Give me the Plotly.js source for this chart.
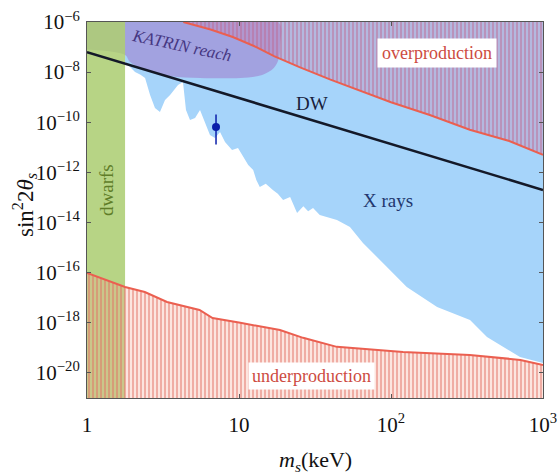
<!DOCTYPE html>
<html>
<head>
<meta charset="utf-8">
<script src="https://cdn.plot.ly/plotly-3.0.1.min.js"></script>
<style>html,body{margin:0;padding:0;background:#fff;}#chart{width:557px;height:475px;}</style>
</head>
<body>
<div id="chart"></div>
<script>
// ---- data (mass in keV, log10 of sin^2 2theta) ----
const xrayMass = [1.78, 2.07, 2.25, 2.41, 2.60, 2.80, 3.02, 3.26, 3.52, 3.97, 4.28, 4.48, 4.76, 5.14, 5.54, 5.97, 6.44, 6.95, 7.50, 8.09, 9.00, 9.85, 10.5, 11.5, 12.4, 13.0, 13.7, 15.0, 16.7, 18.0, 19.5, 21.7, 24.1, 26.5, 28.5, 30.7, 34.0, 37.9, 44.1, 53.7, 65.4, 88.5, 127, 201, 331, 428, 706, 1000];
const xrayLogSin = [-7.6, -7.99, -8.1, -8.23, -8.91, -9.43, -9.59, -9.11, -8.91, -8.51, -8.39, -9.51, -9.91, -9.83, -9.51, -9.99, -10.51, -10.63, -10.39, -10.79, -11.11, -11.03, -11.31, -11.70, -11.90, -12.3, -12.58, -12.45, -12.70, -12.85, -13.10, -12.98, -13.62, -13.35, -13.55, -13.42, -13.70, -13.78, -13.90, -14.18, -14.82, -15.61, -16.57, -17.37, -17.89, -18.57, -19.36, -19.60];

const overMass = [4.3, 6.5, 9.1, 13, 17, 25, 40, 60, 100, 180, 330, 600, 1000];
const overLogSin = [-6.0, -6.3, -6.6, -7.0, -7.36, -7.8, -8.3, -8.71, -9.2, -9.71, -10.3, -10.75, -11.3];

const underMass = [1, 1.78, 2.4, 3.36, 5.5, 6.7, 10.2, 18.6, 26.4, 44, 120, 330, 710, 1000];
const underLogSin = [-16.01, -16.57, -16.77, -17.17, -17.49, -17.81, -18.0, -18.29, -18.6, -18.96, -19.16, -19.28, -19.48, -19.68];

const katrinMass = [1, 1.78, 1.92, 2.41, 3.52, 5.54, 10.2, 14.2, 17.0, 18.3, 18.6, 18.1];
const katrinLogSin = [-7.1, -7.32, -7.60, -7.91, -8.15, -8.23, -8.23, -8.11, -7.83, -7.44, -6.92, -6.0];

const dwarfMassMax = 1.78;
const dwMass = [1, 1000];
const dwLogSin = [-7.2, -12.7];

const pointMass = [7.06];
const pointLogSin = [-10.19];
const pointErrUp = [0.5];
const pointErrDown = [0.7];

const xRange = [1, 1000];
const yRangeLog = [-21, -6];
const xTickVals = [1, 10, 100, 1000];
const xTickText = ['1', '10', '10<sup>2</sup>', '10<sup>3</sup>'];
const yTickExp = [-20, -18, -16, -14, -12, -10, -8, -6];

// ---- helpers ----
const p10 = v => Math.pow(10, v);
const yTop = p10(yRangeLog[1]);
const yBot = p10(yRangeLog[0]);

const serif = 'Liberation Serif';

const traces = [];

// X-ray excluded region (blue)
traces.push({
  x: xrayMass.concat([xRange[1], xrayMass[0]]),
  y: xrayLogSin.map(p10).concat([yTop, yTop]),
  mode: 'lines', line: {width: 0}, fill: 'toself',
  fillcolor: 'rgb(166,212,250)', hoverinfo: 'skip', showlegend: false
});

// KATRIN reach (purple)
traces.push({
  x: katrinMass.concat([katrinMass[0]]),
  y: katrinLogSin.map(p10).concat([yTop]),
  mode: 'lines', line: {width: 0, shape: 'spline'}, fill: 'toself',
  fillcolor: 'rgba(160,145,215,0.75)', hoverinfo: 'skip', showlegend: false
});

// dwarfs band (green)
traces.push({
  x: [xRange[0], dwarfMassMax, dwarfMassMax, xRange[0]],
  y: [yBot, yBot, yTop, yTop],
  mode: 'lines', line: {width: 0}, fill: 'toself',
  fillcolor: 'rgba(170,204,112,0.85)', hoverinfo: 'skip', showlegend: false
});

// overproduction (hatched)
traces.push({
  x: overMass.concat([xRange[1], overMass[0]]),
  y: overLogSin.map(p10).concat([yTop, yTop]),
  mode: 'lines', line: {width: 0}, fill: 'toself',
  fillcolor: 'rgba(205,120,165,0.35)',
  fillpattern: {shape: '|', size: 4, solidity: 0.4, fgcolor: 'rgba(190,100,140,0.55)', bgcolor: 'rgba(205,130,170,0.35)'},
  hoverinfo: 'skip', showlegend: false
});

// underproduction (hatched)
traces.push({
  x: underMass.concat([xRange[1], xRange[0]]),
  y: underLogSin.map(p10).concat([yBot, yBot]),
  mode: 'lines', line: {width: 0}, fill: 'toself',
  fillcolor: 'rgba(240,160,150,0.3)',
  fillpattern: {shape: '|', size: 4, solidity: 0.4, fgcolor: 'rgba(225,110,100,0.6)', bgcolor: 'rgba(245,170,150,0.3)'},
  hoverinfo: 'skip', showlegend: false
});

// boundary lines (red)
traces.push({
  x: overMass, y: overLogSin.map(p10), mode: 'lines',
  line: {color: 'rgb(235,95,80)', width: 2}, hoverinfo: 'skip', showlegend: false
});
traces.push({
  x: underMass, y: underLogSin.map(p10), mode: 'lines',
  line: {color: 'rgb(235,95,80)', width: 2}, hoverinfo: 'skip', showlegend: false
});

// DW line
traces.push({
  x: dwMass, y: dwLogSin.map(p10), mode: 'lines',
  line: {color: 'rgb(20,25,40)', width: 2.5}, hoverinfo: 'skip', showlegend: false
});

// 7 keV point
traces.push({
  x: pointMass, y: pointLogSin.map(p10), mode: 'markers',
  marker: {color: 'rgb(10,30,170)', size: 8},
  error_y: {type: 'data', symmetric: false,
    array: pointLogSin.map((v, i) => p10(v + pointErrUp[i]) - p10(v)),
    arrayminus: pointLogSin.map((v, i) => p10(v) - p10(v - pointErrDown[i])),
    color: 'rgb(10,30,170)', thickness: 1.5, width: 0},
  hoverinfo: 'skip', showlegend: false
});

// ---- layout ----
const L = 87, R = 14, T = 22, B = 77, W = 557, H = 475;
const pw = W - L - R, ph = H - T - B;
const px = v => (v - L) / pw;
const py = v => (H - B - v) / ph;

const annotations = [
  {text: '<i>KATRIN reach</i>', x: px(181), y: py(46), textangle: 12, font: {family: serif, size: 17, color: 'rgb(70,55,130)'}},
  {text: 'overproduction', x: px(437), y: py(53), bgcolor: '#ffffff', borderpad: 4, font: {family: serif, size: 18, color: 'rgb(205,75,65)'}},
  {text: 'underproduction', x: px(311), y: py(376), bgcolor: '#ffffff', borderpad: 3, font: {family: serif, size: 18, color: 'rgb(205,75,65)'}},
  {text: 'DW', x: px(312), y: py(103), font: {family: serif, size: 19, color: 'rgb(25,30,60)'}},
  {text: 'X rays', x: px(388), y: py(200), font: {family: serif, size: 19, color: 'rgb(35,55,110)'}},
  {text: 'dwarfs', x: px(106), y: py(190), textangle: -90, font: {family: serif, size: 19, color: 'rgb(95,125,40)'}},
  {text: 'sin<sup>2</sup>2<i>θ<sub>s</sub></i>', x: px(24), y: py(205), textangle: -90, font: {family: serif, size: 23, color: '#111'}},
  {text: '<i>m<sub>s</sub></i>(keV)', x: px(315), y: py(461), font: {family: serif, size: 22, color: '#111'}}
].map(a => Object.assign({xref: 'paper', yref: 'paper', showarrow: false, xanchor: 'center', yanchor: 'middle'}, a));

const layout = {
  width: W, height: H,
  margin: {l: L, r: R, t: T, b: B},
  paper_bgcolor: '#fff', plot_bgcolor: '#fff',
  showlegend: false,
  xaxis: {
    type: 'log', range: [Math.log10(xRange[0]), Math.log10(xRange[1])],
    tickvals: xTickVals, ticktext: xTickText,
    ticks: 'inside', ticklen: 4, tickcolor: '#555', ticklabelstandoff: 8,
    ticklabeloverflow: 'allow',
    showline: true, linecolor: '#555', linewidth: 1, mirror: 'ticks',
    showgrid: false, zeroline: false,
    tickfont: {family: serif, size: 21, color: '#111'}
  },
  yaxis: {
    type: 'log', range: yRangeLog,
    tickvals: yTickExp.map(p10), ticktext: yTickExp.map(e => '10<sup>−' + Math.abs(e) + '</sup>'),
    ticks: 'inside', ticklen: 4, tickcolor: '#555', ticklabelstandoff: 2,
    ticklabeloverflow: 'allow',
    showline: true, linecolor: '#555', linewidth: 1, mirror: 'ticks',
    showgrid: false, zeroline: false,
    tickfont: {family: serif, size: 21, color: '#111'}
  },
  annotations: annotations
};

Plotly.newPlot('chart', traces, layout, {staticPlot: true, displayModeBar: false});
</script>
</body>
</html>
